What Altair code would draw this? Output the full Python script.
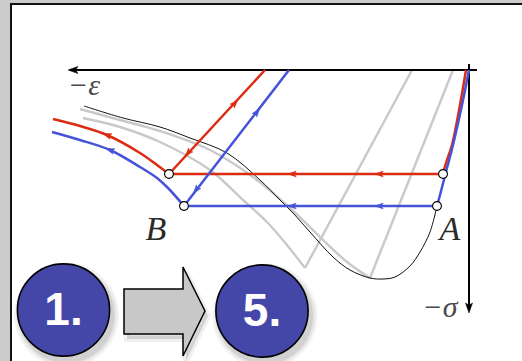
import altair as alt
import pandas as pd

W, H = 522, 361

# Drawing frame: x grows to the right, y grows downward (pixel-like units).
# Axes: horizontal -eps axis and vertical -sigma axis meeting at the origin.
axis_h_x = [477, 70]
axis_h_y = [70, 70]
axis_v_x = [469, 469]
axis_v_y = [64, 310]

# Non-monotone reference stress-strain curve (thin black)
black_x = [84, 123, 160, 190, 227, 260, 280, 293, 310, 333, 350, 370, 383, 395, 410, 420, 430, 437]
black_y = [106, 118, 127, 138, 153, 180, 200, 213, 232, 257, 270, 278, 279, 277, 266, 252, 232, 206]

# Earlier loading cycles (light gray): softening branches and elastic arms
gray1_x = [80, 120, 160, 210, 253, 290, 320, 347, 370]
gray1_y = [109, 120, 131, 150, 177, 208, 237, 262, 278]
gray2_x = [83, 120, 160, 210, 243, 267, 287, 305]
gray2_y = [118, 127, 142, 170, 200, 222, 245, 268]
arm1_x = [370, 453]
arm1_y = [278, 70]
arm2_x = [305, 412]
arm2_y = [268, 70]

# Red cycle
red_load_x = [466, 460, 452, 446, 443]
red_load_y = [70, 105, 145, 163, 174]
red_plateau_x = [443, 169]
red_plateau_y = [174, 174]
red_unload_x = [265, 169]
red_unload_y = [70, 174]
red_soft_x = [169, 157, 140, 107, 80, 53]
red_soft_y = [174, 165, 153, 135, 126, 119]

# Blue cycle
blue_load_x = [469, 462, 453, 447, 440, 437]
blue_load_y = [70, 105, 145, 168, 195, 206]
blue_plateau_x = [437, 184]
blue_plateau_y = [206, 206]
blue_unload_x = [289, 184]
blue_unload_y = [70, 206]
blue_soft_x = [184, 168, 157, 140, 110, 80, 52]
blue_soft_y = [206, 188, 178, 167, 150, 140, 132]

# States A and B of both cycles
state_x = [443, 169, 437, 184]
state_y = [174, 174, 206, 206]

# Direction arrowheads along the paths (angle: clockwise from "up")
red_head_x = [292, 379, 107, 235, 188]
red_head_y = [174, 174, 135, 103, 153]
red_head_angle = [270, 270, 291, 42, 222]
blue_head_x = [292, 379, 110, 257, 196]
blue_head_y = [206, 206, 150, 112, 190]
blue_head_angle = [270, 270, 290, 38, 218]
axis_head_x = [73, 469]
axis_head_y = [70, 308]
axis_head_angle = [270, 180]

# Text labels
label_text = ["\u2212\u03b5", "\u2212\u03c3"]
label_x = [84, 440]
label_y = [86, 308]
state_label_text = ["B", "A"]
state_label_x = [156, 450]
state_label_y = [240, 240]

# Step badges and the block arrow between them
badge_text = ["1.", "5."]
badge_x = [63.5, 262]
badge_y = [310, 311]
block_x = [124, 183, 183, 205, 183, 183, 124]
block_y = [289, 289, 267, 311, 356, 334, 334]

RED = "#dd2a12"
BLUE = "#4653d8"
GRAY = "#c9c9c9"
BADGE = "#4447a8"

xsc = alt.Scale(domain=[0, W], nice=False, zero=False)
ysc = alt.Scale(domain=[H, 0], nice=False, zero=False)


def enc_xy():
    return dict(x=alt.X("x:Q", scale=xsc, axis=None), y=alt.Y("y:Q", scale=ysc, axis=None))


def paths(*items):
    frames = []
    for name, xs, ys in items:
        frames.append(pd.DataFrame({"path": name, "i": range(len(xs)), "x": xs, "y": ys}))
    return pd.concat(frames, ignore_index=True)


def line_layer(df, color, width, interp="linear"):
    return alt.Chart(df).mark_line(
        color=color, strokeWidth=width, interpolate=interp, strokeCap="butt", strokeJoin="round"
    ).encode(detail="path:N", order="i:Q", **enc_xy())


STEALTH = "M0,-1L0.7,1L0,0.55L-0.7,1Z"


def heads(xs, ys, angles, color, size):
    df = pd.DataFrame({"x": xs, "y": ys, "a": angles})
    return alt.Chart(df).mark_point(
        shape=STEALTH, filled=True, fill=color, stroke=color, strokeWidth=0.5, opacity=1, size=size
    ).encode(angle=alt.Angle("a:Q", scale=None), **enc_xy())


# White panel with dark frame
panel = alt.Chart(pd.DataFrame({"x": [11], "x2": [540], "y": [4], "y2": [380]})).mark_rect(
    fill="white", stroke="#111111", strokeWidth=2
).encode(x=alt.X("x:Q", scale=xsc, axis=None), x2="x2:Q",
         y=alt.Y("y:Q", scale=ysc, axis=None), y2="y2:Q")

gray_curves = line_layer(paths(("g1", gray1_x, gray1_y), ("g2", gray2_x, gray2_y)),
                         GRAY, 2.4, "catmull-rom")
gray_arms = line_layer(paths(("a1", arm1_x, arm1_y), ("a2", arm2_x, arm2_y)), GRAY, 2.4)
black_curve = line_layer(paths(("b", black_x, black_y)), "#111111", 1.0, "catmull-rom")
axes = line_layer(paths(("h", axis_h_x, axis_h_y), ("v", axis_v_x, axis_v_y)), "black", 2.0)

red_curves = line_layer(paths(("rl", red_load_x, red_load_y), ("rs", red_soft_x, red_soft_y)),
                        RED, 2.5, "catmull-rom")
red_lines = line_layer(paths(("rp", red_plateau_x, red_plateau_y), ("ru", red_unload_x, red_unload_y)),
                       RED, 2.5)
blue_curves = line_layer(paths(("bl", blue_load_x, blue_load_y), ("bs", blue_soft_x, blue_soft_y)),
                         BLUE, 2.5, "catmull-rom")
blue_lines = line_layer(paths(("bp", blue_plateau_x, blue_plateau_y), ("bu", blue_unload_x, blue_unload_y)),
                        BLUE, 2.5)

red_heads = heads(red_head_x, red_head_y, red_head_angle, RED, 70)
blue_heads = heads(blue_head_x, blue_head_y, blue_head_angle, BLUE, 70)
axis_heads = heads(axis_head_x, axis_head_y, axis_head_angle, "black", 100)

states = alt.Chart(pd.DataFrame({"x": state_x, "y": state_y})).mark_point(
    shape="circle", filled=True, fill="white", stroke="black", strokeWidth=1.1, size=78, opacity=1
).encode(**enc_xy())

axis_labels = alt.Chart(pd.DataFrame({"x": label_x, "y": label_y, "t": label_text})).mark_text(
    font="Liberation Serif", fontStyle="italic", fontSize=30, color="#4a4a4a",
    align="center", baseline="middle"
).encode(text="t:N", **enc_xy())

state_labels = alt.Chart(pd.DataFrame({"x": state_label_x, "y": state_label_y, "t": state_label_text})).mark_text(
    font="Liberation Serif", fontStyle="italic", fontSize=34, color="#2a2a2a",
    align="center", baseline="alphabetic"
).encode(text="t:N", **enc_xy())

# Soft drop shadows under the badges and the block arrow
badge_df = pd.DataFrame({"x": badge_x, "y": badge_y, "t": badge_text})
shadow_df = pd.DataFrame({"x": [v + 3 for v in badge_x], "y": [v + 5 for v in badge_y]})
shadows = [
    alt.Chart(shadow_df).mark_point(shape="circle", filled=True, fill="black", stroke=None,
                                    opacity=op, size=sz).encode(**enc_xy())
    for op, sz in [(0.05, 11000), (0.06, 10000), (0.08, 9200)]
]
block_shadow = alt.Chart(paths(("s", [v + 3 for v in block_x], [v + 5 for v in block_y]))).mark_line(
    interpolate="linear-closed", fill="black", fillOpacity=0.12, stroke="black", strokeOpacity=0.06,
    strokeWidth=6
).encode(order="i:Q", **enc_xy())

badges = alt.Chart(badge_df).mark_point(
    shape="circle", filled=True, fill=BADGE, stroke="black", strokeWidth=1.6, size=8500, opacity=1
).encode(**enc_xy())
badge_labels = alt.Chart(badge_df).mark_text(
    font="Liberation Sans", fontWeight="bold", fontSize=46, color="white",
    align="center", baseline="alphabetic", dy=15
).encode(text="t:N", **enc_xy())

block = alt.Chart(paths(("blk", block_x, block_y))).mark_line(
    interpolate="linear-closed", fill="#c8c8c8", stroke="black", strokeWidth=1.5, strokeJoin="miter"
).encode(order="i:Q", **enc_xy())

chart = alt.layer(
    panel, gray_curves, gray_arms, black_curve, axes,
    red_curves, red_lines, blue_curves, blue_lines,
    red_heads, blue_heads, axis_heads, states,
    axis_labels, state_labels,
    *shadows, block_shadow, badges, block, badge_labels,
).properties(
    width=W, height=H, background="#cccccc", padding=0, autosize="none"
).configure_view(strokeWidth=0)

chart.save("out.html", embed_options={"renderer": "svg", "actions": False})
